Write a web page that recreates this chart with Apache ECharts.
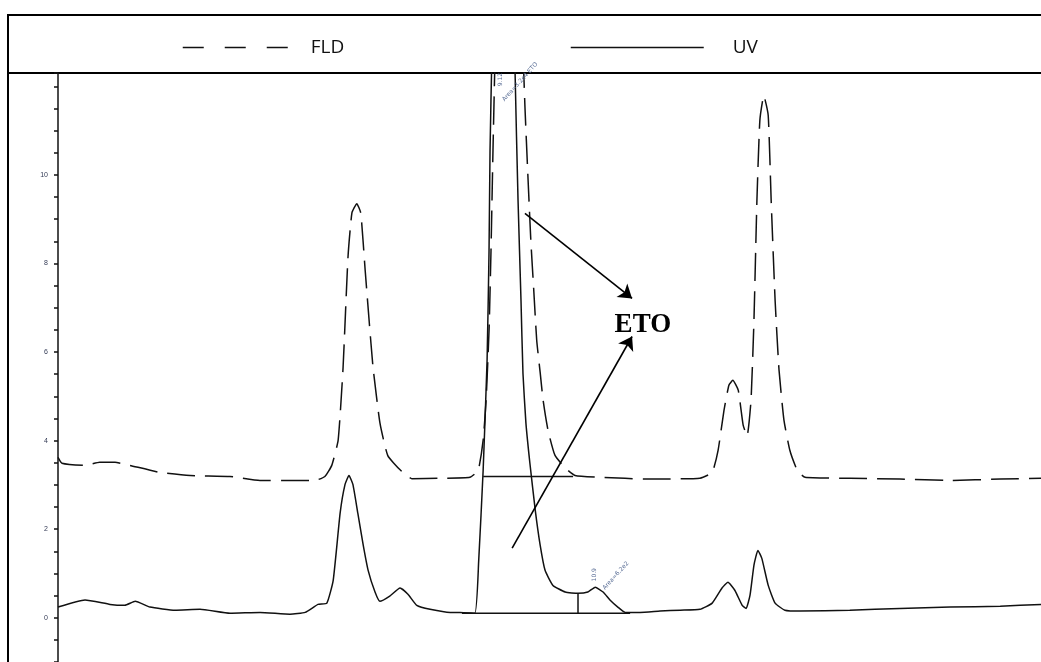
<!DOCTYPE html>
<html>
<head>
<meta charset="utf-8">
<script src="https://cdn.jsdelivr.net/npm/echarts@6/dist/echarts.min.js"></script>
<style>
  html, body { margin: 0; padding: 0; background: #fff; }
  #chart { width: 1041px; height: 662px; }
</style>
</head>
<body>
<div id="chart"></div>
<script>
// retention time (min) and signal
const uvTime = [0.00, 0.55, 1.06, 1.36, 1.57, 1.87, 2.38, 2.89, 3.50, 4.11, 4.72, 5.03, 5.29, 5.47, 5.60, 5.74, 5.84, 5.92, 6.00, 6.10, 6.21, 6.31, 6.45, 6.55, 6.75, 6.96, 7.12, 7.30, 7.57, 7.98, 8.18, 8.48, 8.56, 8.65, 8.73, 8.77, 8.79, 8.83, 8.93, 9.09, 9.24, 9.30, 9.36, 9.42, 9.46, 9.52, 9.60, 9.71, 9.81, 9.91, 10.07, 10.32, 10.58, 10.78, 10.93, 11.09, 11.23, 11.39, 11.54, 11.84, 12.25, 12.66, 13.06, 13.31, 13.51, 13.63, 13.77, 13.92, 14.00, 14.08, 14.16, 14.24, 14.32, 14.45, 14.59, 14.79, 15.10, 16.11, 17.13, 18.15, 19.17, 20.00];
const uvValue = [0.24, 0.40, 0.30, 0.28, 0.37, 0.24, 0.17, 0.19, 0.10, 0.12, 0.08, 0.12, 0.30, 0.33, 0.85, 2.36, 3.01, 3.21, 3.01, 2.36, 1.64, 1.07, 0.58, 0.37, 0.49, 0.67, 0.53, 0.28, 0.19, 0.12, 0.12, 0.10, 1.30, 3.33, 5.81, 8.30, 10.55, 12.81, 17.33, 19.58, 16.64, 12.29, 9.42, 7.17, 5.52, 4.40, 3.50, 2.43, 1.64, 1.07, 0.73, 0.58, 0.55, 0.58, 0.69, 0.58, 0.40, 0.24, 0.12, 0.12, 0.15, 0.17, 0.19, 0.33, 0.67, 0.80, 0.62, 0.28, 0.21, 0.51, 1.19, 1.52, 1.34, 0.73, 0.33, 0.17, 0.15, 0.17, 0.21, 0.24, 0.26, 0.30];

const fldTime = [0.00, 0.08, 0.55, 0.85, 1.16, 1.46, 2.08, 2.69, 3.50, 4.11, 4.72, 5.23, 5.43, 5.57, 5.70, 5.80, 5.90, 5.98, 6.08, 6.16, 6.25, 6.33, 6.41, 6.55, 6.71, 6.96, 7.20, 7.77, 8.38, 8.55, 8.65, 8.71, 8.77, 8.81, 8.85, 8.89, 8.99, 9.16, 9.32, 9.44, 9.50, 9.56, 9.62, 9.68, 9.74, 9.81, 9.87, 9.97, 10.11, 10.32, 10.52, 11.03, 12.04, 13.06, 13.31, 13.43, 13.55, 13.65, 13.73, 13.84, 13.94, 14.02, 14.10, 14.16, 14.22, 14.28, 14.36, 14.45, 14.51, 14.59, 14.67, 14.77, 14.89, 15.04, 15.20, 16.11, 17.13, 18.15, 19.17, 20.00];
const fldValue = [3.62, 3.49, 3.44, 3.51, 3.51, 3.44, 3.28, 3.21, 3.19, 3.10, 3.10, 3.10, 3.19, 3.44, 4.01, 5.65, 8.14, 9.14, 9.35, 9.14, 7.84, 6.71, 5.65, 4.40, 3.66, 3.34, 3.14, 3.15, 3.17, 3.33, 4.01, 4.91, 6.49, 8.30, 10.55, 12.58, 17.33, 19.58, 17.33, 13.49, 11.55, 9.99, 8.52, 7.39, 6.26, 5.54, 4.91, 4.23, 3.67, 3.38, 3.21, 3.17, 3.13, 3.15, 3.28, 3.78, 4.68, 5.25, 5.36, 5.14, 4.35, 4.10, 4.91, 6.72, 9.42, 11.23, 11.79, 11.34, 9.42, 7.17, 5.59, 4.46, 3.78, 3.33, 3.17, 3.15, 3.13, 3.10, 3.13, 3.15];

// integration baselines / drop line drawn by the data system
const segments = [
  [[8.65, 3.19], [10.48, 3.19]],
  [[8.22, 0.10], [11.64, 0.10]],
  [[10.58, 0.55], [10.58, 0.10]]
];

// annotation arrows pointing at the ETO label
const arrows = [
  [[9.50, 9.13], [11.68, 7.21]],
  [[9.24, 1.57], [11.68, 6.35]]
];
const etoLabel = [11.90, 6.60];

const yLabels = [0, 2, 4, 6, 8, 10];

const zip = (xs, ys) => xs.map((x, i) => [x, ys[i]]);

const chart = echarts.init(document.getElementById('chart'));

const traceStyle = { color: '#111', width: 1.5 };

const series = [
  {
    name: 'FLD',
    type: 'line',
    data: zip(fldTime, fldValue),
    symbol: 'none',
    smooth: 0.15,
    lineStyle: Object.assign({ type: [28, 10] }, traceStyle),
    itemStyle: { color: '#111' },
    markLine: {
      silent: true,
      symbol: ['none', 'arrow'],
      symbolSize: 13,
      label: { show: false },
      lineStyle: { color: '#000', width: 1.6, type: 'solid' },
      data: arrows.map(a => [{ coord: a[0] }, { coord: a[1] }])
    },
    markPoint: {
      silent: true,
      symbol: 'circle',
      symbolSize: 0,
      data: [{
        coord: etoLabel,
        label: {
          show: true,
          formatter: 'ETO',
          fontFamily: 'Liberation Serif',
          fontWeight: 'bold',
          fontSize: 27,
          color: '#000'
        }
      }]
    }
  },
  {
    name: 'UV',
    type: 'line',
    data: zip(uvTime, uvValue),
    symbol: 'none',
    smooth: 0.15,
    lineStyle: Object.assign({ type: 'solid' }, traceStyle),
    itemStyle: { color: '#111' },
    markPoint: {
      silent: true,
      symbol: 'circle',
      symbolSize: 0,
      label: { fontSize: 6, color: '#5a6e96', fontFamily: 'DejaVu Sans' },
      data: [
        { coord: [9.4, 12.1], label: { show: true, formatter: 'Area=3.2e4 ETO', rotate: 48 } },
        { coord: [9.0, 12.15], label: { show: true, formatter: '9.12', rotate: 90 } },
        { coord: [11.35, 0.95], label: { show: true, formatter: 'Area=6.2e2', rotate: 48 } },
        { coord: [10.92, 0.97], label: { show: true, formatter: '10.9', rotate: 90 } }
      ]
    }
  }
];

segments.forEach((s, i) => {
  series.push({
    name: 'seg' + i,
    type: 'line',
    data: s,
    symbol: 'none',
    silent: true,
    lineStyle: { color: '#111', width: 1.5 }
  });
});

const legendText = { fontFamily: 'Open Sans', fontSize: 19, color: '#111' };

chart.setOption({
  animation: false,
  backgroundColor: '#fff',
  legend: [
    {
      data: [{ name: 'FLD', itemStyle: { opacity: 0 }, lineStyle: { type: [21, 21], width: 1.5, color: '#111' } }],
      left: 177,
      top: 33,
      itemWidth: 106,
      itemHeight: 20,
      selectedMode: false,
      textStyle: Object.assign({ padding: [0, 0, 0, 17] }, legendText)
    },
    {
      data: [{ name: 'UV', itemStyle: { opacity: 0 }, lineStyle: { type: 'solid', width: 1.5, color: '#111' } }],
      left: 565,
      top: 33,
      itemWidth: 133,
      itemHeight: 20,
      selectedMode: false,
      textStyle: Object.assign({ padding: [0, 0, 0, 24] }, legendText)
    }
  ],
  graphic: [
    {
      type: 'rect',
      shape: { x: 8, y: 15, width: 1040, height: 58 },
      style: { fill: '#fff', stroke: '#000', lineWidth: 2 },
      z: 0
    },
    {
      type: 'line',
      shape: { x1: 8, y1: 73, x2: 8, y2: 662 },
      style: { stroke: '#000', lineWidth: 2 }
    }
  ],
  grid: { left: 58, right: 0, top: 73, bottom: 0 },
  xAxis: {
    type: 'value',
    min: 0,
    max: 20,
    show: false
  },
  yAxis: {
    type: 'value',
    min: -1,
    max: 12.3,
    interval: 0.5,
    axisLine: { show: true, lineStyle: { color: '#111', width: 1.5 } },
    axisTick: { show: true, inside: false, length: 4, lineStyle: { color: '#111', width: 1.5 } },
    splitLine: { show: false },
    axisLabel: {
      fontSize: 7,
      color: '#333a55',
      margin: 10,
      formatter: v => (yLabels.indexOf(Math.round(v * 100) / 100) >= 0 ? String(v) : '')
    }
  },
  series: series
});
</script>
</body>
</html>
